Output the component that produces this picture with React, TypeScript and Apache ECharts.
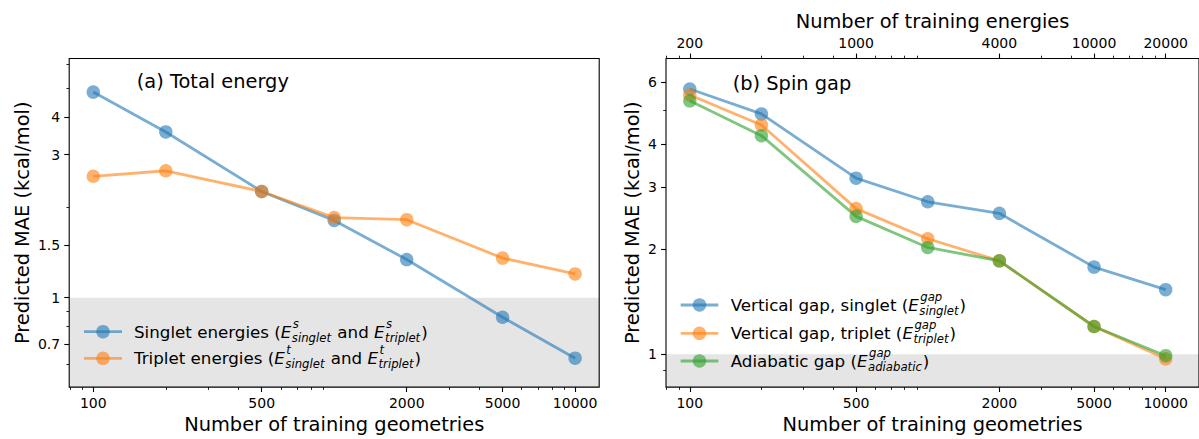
import React, { useEffect, useRef } from "react";
import * as echarts from "echarts";

// ---------- data ----------
const geometries = [100, 200, 500, 1000, 2000, 5000, 10000];
// (a) Total energy, MAE (kcal/mol)
const totalSinglet = [4.85, 3.57, 2.26, 1.81, 1.34, 0.86, 0.628];
const totalTriplet = [2.54, 2.65, 2.26, 1.85, 1.82, 1.355, 1.2];
// (b) Spin gap, MAE (kcal/mol)
const gapVertSinglet = [5.74, 4.87, 3.19, 2.73, 2.53, 1.775, 1.53];
const gapVertTriplet = [5.52, 4.53, 2.61, 2.14, 1.85, 1.2, 0.97];
const gapAdiabatic = [5.31, 4.22, 2.48, 2.02, 1.85, 1.2, 0.99];

// ---------- ticks ----------
const xMajorTicks = [100, 500, 2000, 5000, 10000];
const xMinorTicks = [80, 90, 200, 300, 400, 600, 700, 800, 900, 3000, 4000, 6000, 7000, 8000, 9000];
const energyTickLabels = ["200", "1000", "4000", "10000", "20000"];
const yMajorTicksA = [0.7, 1, 1.5, 3, 4];
const yMinorTicksA = [0.6, 0.8, 0.9, 2, 5, 6];
const yMajorTicksB = [1, 2, 3, 4, 6];
const yMinorTicksB = [0.9, 5];
const threshold = 1;

const FONT = "DejaVu Sans";
const BLUE = "#1f77b4";
const ORANGE = "#ff7f0e";
const GREEN = "#2ca02c";

const L = Math.log10;

// axis extents (log10 units)
const XA = [1.9, 4.1];
const XB = [1.9, 4.14];
const YA = [-0.2984, 0.7977];
const YB = [-0.0942, 0.8462];

const fmt = (v: number) => String(Number(Math.pow(10, v).toPrecision(4)));

type Piece = { text: string } | { base: string; sup: string; sub: string };

const legendA: { color: string; pieces: Piece[] }[] = [
  {
    color: BLUE,
    pieces: [
      { text: "Singlet energies (" },
      { base: "E", sup: "s", sub: "singlet" },
      { text: " and " },
      { base: "E", sup: "s", sub: "triplet" },
      { text: ")" },
    ],
  },
  {
    color: ORANGE,
    pieces: [
      { text: "Triplet energies (" },
      { base: "E", sup: "t", sub: "singlet" },
      { text: " and " },
      { base: "E", sup: "t", sub: "triplet" },
      { text: ")" },
    ],
  },
];

const legendB: { color: string; pieces: Piece[] }[] = [
  { color: BLUE, pieces: [{ text: "Vertical gap, singlet (" }, { base: "E", sup: "gap", sub: "singlet" }, { text: ")" }] },
  { color: ORANGE, pieces: [{ text: "Vertical gap, triplet (" }, { base: "E", sup: "gap", sub: "triplet" }, { text: ")" }] },
  { color: GREEN, pieces: [{ text: "Adiabatic gap (" }, { base: "E", sup: "gap", sub: "adiabatic" }, { text: ")" }] },
];

export default function App() {
  const ref = useRef<HTMLDivElement>(null);

  useEffect(() => {
    const chart = echarts.init(ref.current!, undefined, { renderer: "svg" });

    const ctx = document.createElement("canvas").getContext("2d")!;
    const measure = (t: string, size: number, italic: boolean) => {
      ctx.font = `${italic ? "italic " : ""}${size}px "${FONT}"`;
      return ctx.measureText(t).width;
    };

    const LS = 16.7;
    const SS = 11.7;
    const legendGraphics = (
      rows: { color: string; pieces: Piece[] }[],
      x1: number,
      x2: number,
      tx: number,
      ys: number[]
    ) => {
      const els: any[] = [];
      rows.forEach((row, i) => {
        const y = ys[i];
        els.push({
          type: "line",
          z: 100,
          shape: { x1, y1: y, x2, y2: y },
          style: { stroke: row.color, lineWidth: 2.8, opacity: 0.6 },
        });
        els.push({
          type: "circle",
          z: 100,
          shape: { cx: (x1 + x2) / 2, cy: y, r: 6.75 },
          style: { fill: row.color, opacity: 0.6 },
        });
        let x = tx;
        row.pieces.forEach((p: any) => {
          if (p.text !== undefined) {
            els.push({
              type: "text",
              z: 100,
              x,
              y,
              style: { text: p.text, font: `${LS}px "${FONT}"`, fill: "#000", textVerticalAlign: "middle", verticalAlign: "middle" },
            });
            x += measure(p.text, LS, false);
          } else {
            els.push({
              type: "text",
              z: 100,
              x,
              y,
              style: { text: p.base, font: `italic ${LS}px "${FONT}"`, fill: "#000", textVerticalAlign: "middle", verticalAlign: "middle" },
            });
            x += measure(p.base, LS, true) + 0.5;
            els.push({
              type: "text",
              z: 100,
              x: x + 1,
              y: y - 8,
              style: { text: p.sup, font: `italic ${SS}px "${FONT}"`, fill: "#000", textVerticalAlign: "middle", verticalAlign: "middle" },
            });
            els.push({
              type: "text",
              z: 100,
              x,
              y: y + 6,
              style: { text: p.sub, font: `italic ${SS}px "${FONT}"`, fill: "#000", textVerticalAlign: "middle", verticalAlign: "middle" },
            });
            x += Math.max(measure(p.sup, SS, true) + 1, measure(p.sub, SS, true)) + 1;
          }
        });
      });
      return els;
    };

    const labelStyle = { fontSize: 14, color: "#000", fontFamily: FONT };
    const nameStyle = { fontSize: 19.4, color: "#000", fontFamily: FONT };

    const majorX = (gridIndex: number, ext: number[], position: string, name: string, gap: number, formatter: any) => ({
      type: "value",
      gridIndex,
      position,
      min: ext[0],
      max: ext[1],
      name,
      nameLocation: "middle",
      nameGap: gap,
      nameTextStyle: nameStyle,
      axisLine: { show: false, onZero: false },
      splitLine: { show: false },
      axisTick: { show: true, length: 4.9, lineStyle: { color: "#000", width: 1.1 }, customValues: xMajorTicks.map(L) },
      axisLabel: { ...labelStyle, margin: 9, customValues: xMajorTicks.map(L), formatter },
    });
    const minorX = (gridIndex: number, ext: number[], position: string) => ({
      type: "value",
      gridIndex,
      position,
      min: ext[0],
      max: ext[1],
      axisLine: { show: false, onZero: false },
      splitLine: { show: false },
      axisLabel: { show: false },
      axisTick: { show: true, length: 2.8, lineStyle: { color: "#000", width: 0.85 }, customValues: xMinorTicks.map(L) },
    });
    const majorY = (gridIndex: number, ext: number[], ticks: number[], gap: number) => ({
      type: "value",
      gridIndex,
      position: "left",
      min: ext[0],
      max: ext[1],
      name: "Predicted MAE (kcal/mol)",
      nameLocation: "middle",
      nameGap: gap,
      nameTextStyle: nameStyle,
      axisLine: { show: false, onZero: false },
      splitLine: { show: false },
      axisTick: { show: true, length: 4.9, lineStyle: { color: "#000", width: 1.1 }, customValues: ticks.map(L) },
      axisLabel: { ...labelStyle, margin: 9, customValues: ticks.map(L), formatter: fmt },
    });
    const minorY = (gridIndex: number, ext: number[], ticks: number[]) => ({
      type: "value",
      gridIndex,
      position: "left",
      min: ext[0],
      max: ext[1],
      axisLine: { show: false, onZero: false },
      splitLine: { show: false },
      axisLabel: { show: false },
      axisTick: { show: true, length: 2.8, lineStyle: { color: "#000", width: 0.85 }, customValues: ticks.map(L) },
    });

    const energyFormatter = (v: number) => {
      const idx = xMajorTicks.findIndex((t) => Math.abs(L(t) - v) < 1e-6);
      return idx >= 0 ? energyTickLabels[idx] : "";
    };

    const line = (name: string, vals: number[], color: string, xi: number, yi: number) => ({
      name,
      type: "line",
      xAxisIndex: xi,
      yAxisIndex: yi,
      z: 3,
      data: geometries.map((g, i) => [L(g), L(vals[i])]),
      symbol: "circle",
      symbolSize: 13.5,
      lineStyle: { color, width: 2.8, opacity: 0.6 },
      itemStyle: { color, opacity: 0.6 },
      emphasis: { disabled: true },
    });

    const shade = (xi: number, yi: number, xe: number[], ye: number[]) => ({
      type: "line",
      xAxisIndex: xi,
      yAxisIndex: yi,
      z: 1,
      data: [
        [xe[0], ye[0]],
        [xe[1], ye[0]],
      ],
      symbol: "none",
      lineStyle: { opacity: 0 },
      silent: true,
      markArea: {
        silent: true,
        itemStyle: { color: "#e5e5e5", opacity: 1 },
        data: [[{ coord: [xe[0], ye[0]] }, { coord: [xe[1], L(threshold)] }]],
      },
    });

    const option: any = {
      animation: false,
      backgroundColor: "#fff",
      textStyle: { fontFamily: FONT },
      grid: [
        { left: 69.2, top: 58.5, width: 530, height: 329.5, show: true, z: 10, borderColor: "#000", borderWidth: 1.1, backgroundColor: "transparent" },
        { left: 666, top: 58.5, width: 539.5, height: 329.5, show: true, z: 10, borderColor: "#000", borderWidth: 1.1, backgroundColor: "transparent" },
      ],
      xAxis: [
        majorX(0, XA, "bottom", "Number of training geometries", 24, fmt),
        minorX(0, XA, "bottom"),
        majorX(1, XB, "bottom", "Number of training geometries", 24, fmt),
        minorX(1, XB, "bottom"),
        majorX(1, XB, "top", "Number of training energies", 27, energyFormatter),
        minorX(1, XB, "top"),
      ],
      yAxis: [
        majorY(0, YA, yMajorTicksA, 37),
        minorY(0, YA, yMinorTicksA),
        majorY(1, YB, yMajorTicksB, 24),
        minorY(1, YB, yMinorTicksB),
      ],
      series: [
        shade(0, 0, XA, YA),
        shade(2, 2, XB, YB),
        line("Singlet energies", totalSinglet, BLUE, 0, 0),
        line("Triplet energies", totalTriplet, ORANGE, 0, 0),
        line("Vertical gap, singlet", gapVertSinglet, BLUE, 2, 2),
        line("Vertical gap, triplet", gapVertTriplet, ORANGE, 2, 2),
        line("Adiabatic gap", gapAdiabatic, GREEN, 2, 2),
      ],
      graphic: [
        {
          type: "text",
          z: 100,
          x: 136.7,
          y: 81.7,
          style: { text: "(a) Total energy", font: `19.4px "${FONT}"`, fill: "#000", textVerticalAlign: "middle", verticalAlign: "middle" },
        },
        {
          type: "text",
          z: 100,
          x: 732.7,
          y: 83.3,
          style: { text: "(b) Spin gap", font: `19.4px "${FONT}"`, fill: "#000", textVerticalAlign: "middle", verticalAlign: "middle" },
        },
        ...legendGraphics(legendA, 84, 122, 134, [331.7, 358.3]),
        ...legendGraphics(legendB, 680.7, 718.3, 730.7, [305, 333.3, 361]),
      ],
    };

    chart.setOption(option);
    return () => chart.dispose();
  }, []);

  return (
    <div
      ref={ref}
      style={{ position: "absolute", left: 0, top: 0, width: 1199, height: 439, background: "#fff" }}
    />
  );
}
